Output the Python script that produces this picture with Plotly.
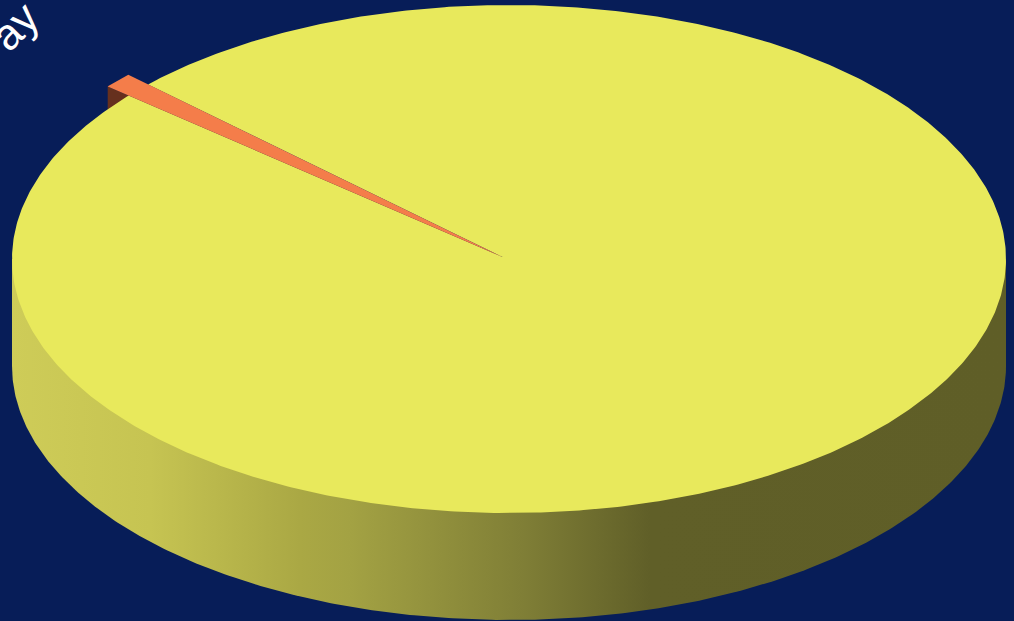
import numpy as np
import plotly.graph_objects as go

# Data
slice_labels = ["Main", "Small"]
slice_values = [99.05, 0.95]
rotation_label = "ay"

# Style / projection
BG = "#071D58"
TOP_MAIN = "#E8E95C"
TOP_SMALL = "#F47D4A"
WALL_SMALL = "#66301E"
CX, CY, RX, RY, DEPTH = 509.0, 259.0, 497.0, 254.0, 107.0
EXPLODE_X, EXPLODE_Y = -6.5, -2.0
SMALL_RADIUS = 1.04
SMALL_END_DEG = 139.8  # math angle of the lower edge of the small slice

W, H = 1014, 621

sweep = 360.0 * slice_values[1] / sum(slice_values)
small_a = np.radians(SMALL_END_DEG)
small_b = np.radians(SMALL_END_DEG - sweep)

def arc(a0, a1, cx=CX, cy=CY, r=1.0, n=361):
    t = np.linspace(a0, a1, n)
    return cx + r * RX * np.cos(t), cy - r * RY * np.sin(t)

def rim_angle(a):
    """Angle on the main rim hit by the small slice's edge at angle a."""
    ex, ey = EXPLODE_X / RX, -EXPLODE_Y / RY
    ca, sa = np.cos(a), np.sin(a)
    b = ex * ca + ey * sa
    s = -b + np.sqrt(b * b - (ex * ex + ey * ey - 1))
    return np.arctan2(ey + s * sa, ex + s * ca)

fig = go.Figure()

# Curved outer wall of the main slice with a horizontal gradient
bx, by = arc(np.pi, 2 * np.pi, cy=CY + DEPTH)
x0 = CX - RX
x1 = CX + RX
stops = [(12, "#CECC58"), (150, "#C6C452"), (300, "#AAA844"), (350, "#A3A243"),
         (525, "#7F7E36"), (650, "#605F28"), (1006, "#5F5E27")]
fig.add_trace(go.Scatter(
    x=np.r_[bx, x1, x0], y=np.r_[by, CY, CY], mode="lines", fill="toself",
    line=dict(width=0), hoverinfo="skip", showlegend=False,
    fillgradient=dict(type="horizontal", start=x0, stop=x1,
                      colorscale=[[(p - x0) / (x1 - x0), c] for p, c in stops]),
))

# Small slice: body (radial wall)
ax_, ay_ = CX + EXPLODE_X, CY + EXPLODE_Y
ox, oy = arc(small_a, small_b, cx=ax_, cy=ay_, r=SMALL_RADIUS, n=20)
fig.add_trace(go.Scatter(
    x=[ax_, ox[0], ox[0], ax_, ax_], y=[ay_, oy[0], oy[0] + DEPTH, ay_ + DEPTH, ay_],
    mode="lines", fill="toself", fillcolor=WALL_SMALL, line=dict(width=0),
    hoverinfo="skip", showlegend=False))

# Main slice top
m0 = rim_angle(small_a)
m1 = rim_angle(small_b)
if m1 < m0:
    m1 += 2 * np.pi
mx, my = arc(m0, m1 if m1 - m0 > np.pi else m1 + 2 * np.pi, n=721)
fig.add_trace(go.Scatter(
    x=np.r_[ax_, mx, ax_], y=np.r_[ay_, my, ay_], mode="lines", fill="toself",
    fillcolor=TOP_MAIN, line=dict(width=0),
    name=slice_labels[0], hoverinfo="skip", showlegend=False))

# Small slice top
fig.add_trace(go.Scatter(
    x=np.r_[ax_, ox, ax_], y=np.r_[ay_, oy, ay_], mode="lines", fill="toself",
    fillcolor=TOP_SMALL, line=dict(width=0), name=slice_labels[1],
    hoverinfo="skip", showlegend=False))

fig.add_annotation(x=14, y=26, xref="x", yref="y", text=rotation_label, showarrow=False,
                   textangle=-45, font=dict(family="Liberation Sans", size=44, color="white"))

fig.update_layout(
    width=W, height=H, margin=dict(l=0, r=0, t=0, b=0),
    paper_bgcolor=BG, plot_bgcolor=BG, showlegend=False,
    xaxis=dict(range=[0, W], visible=False, fixedrange=True),
    yaxis=dict(range=[H, 0], visible=False, fixedrange=True),
)
fig.write_html("out.html", config={"displayModeBar": False},
               post_script=f"document.body.style.margin='0';document.body.style.background='{BG}';document.body.style.overflow='hidden';")
